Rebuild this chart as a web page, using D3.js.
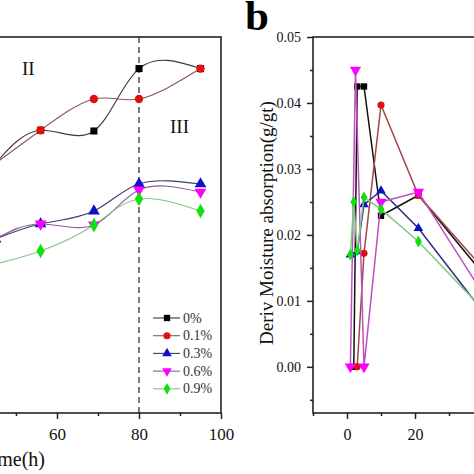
<!DOCTYPE html>
<html><head><meta charset="utf-8">
<script src="https://cdn.jsdelivr.net/npm/d3@7"></script>
<style>body{margin:0;background:#fff}svg{display:block}text{font-family:"Liberation Serif","Times New Roman",serif}</style>
</head><body><svg id="c" width="474" height="474"></svg>
<script>
// ---- data ----
const seriesNames = ["0%", "0.1%", "0.3%", "0.6%", "0.9%"];
// panel a: moisture absorption vs time (spline-connected)
const aTime = [45, 56, 69, 80, 95];
const a0 = [0.166, 0.188, 0.1875, 0.229, 0.229];
const a1 = [0.166, 0.188, 0.2088, 0.2088, 0.229];
const a2 = [0.1157, 0.1257, 0.1343, 0.1523, 0.1523];
const a3 = [0.1157, 0.1257, 0.125, 0.1483, 0.1469];
const a4 = [0.0991, 0.1077, 0.125, 0.1423, 0.1343];
const aXTicks = [60, 80, 100];
// panel b: derivative of moisture absorption
const b0x = [2, 3, 5, 10, 21, 45];
const b0y = [0, 0.0425, 0.0425, 0.0229, 0.026, 0.011];
const b1x = [3, 5, 10, 21, 45];
const b1y = [0, 0.0172, 0.0397, 0.026, 0.012];
const b2x = [1, 3, 5, 10, 21, 45];
const b2y = [0.017, 0.0175, 0.0246, 0.0267, 0.021, 0.005];
const b3x = [1, 2.5, 5, 10, 21, 45];
const b3y = [0, 0.045, 0, 0.025, 0.0265, 0.007];
const b4x = [1, 2, 3, 5, 10, 21, 45];
const b4y = [0.017, 0.025, 0.0176, 0.0257, 0.0239, 0.019, 0.006];
const bYTicks = [0, 0.01, 0.02, 0.03, 0.04, 0.05];
const bXTicks = [0, 20];

// ---- styles ----
const markerFill = ["#000000", "#e01010", "#1010c8", "#ff00ff", "#10e010"];
const lineColA = ["#3a3a3a", "#8a5560", "#3c3c6a", "#8c5c94", "#88c488"];
const lineColB = ["#111111", "#a04848", "#2c2c80", "#c050c0", "#80c880"];
const symbols = [d3.symbolSquare, d3.symbolCircle, d3.symbolTriangle, d3.symbolTriangle, d3.symbolDiamond];
const rotations = [0, 0, 0, 180, 0];

const svg = d3.select("#c");

// ---- panel a ----
const ax = d3.scaleLinear().domain([0, 100]).range([-189, 221]);
const ay = d3.scaleLinear().domain([0, 0.25]).range([413, 37]);
svg.append("clipPath").attr("id", "clipA").append("rect")
  .attr("x", -189).attr("y", 37).attr("width", 410).attr("height", 376);

const aSeries = [a0, a1, a2, a3, a4];
const gA = svg.append("g").attr("clip-path", "url(#clipA)");
// dashed divider at 80 h
gA.append("line").attr("x1", ax(80)).attr("x2", ax(80)).attr("y1", ay(0.25)).attr("y2", ay(0))
  .attr("stroke", "#222").attr("stroke-width", 1.2).attr("stroke-dasharray", "6,4");
const lineA = d3.line().x((d, i) => ax(aTime[i])).y(d => ay(d)).curve(d3.curveNatural);
aSeries.forEach((s, k) => {
  gA.append("path").attr("d", lineA(s)).attr("fill", "none")
    .attr("stroke", lineColA[k]).attr("stroke-width", 1.1);
});
aSeries.forEach((s, k) => {
  const sym = d3.symbol().type(symbols[k]).size(k === 1 ? 55 : (k === 0 ? 50 : 60));
  gA.selectAll(null).data(s).enter().append("path")
    .attr("d", sym)
    .attr("transform", (d, i) => `translate(${ax(aTime[i])},${ay(d)}) rotate(${rotations[k]})`)
    .attr("fill", markerFill[k]);
});
// frame
svg.append("rect").attr("x", -189).attr("y", 37).attr("width", 410).attr("height", 376)
  .attr("fill", "none").attr("stroke", "#222").attr("stroke-width", 1.6);
// x axis
const axA = svg.append("g").attr("transform", "translate(0,413)")
  .call(d3.axisBottom(ax).tickValues(aXTicks).tickSize(6).tickFormat(d3.format("d")));
const axAMinor = svg.append("g").attr("transform", "translate(0,413)")
  .call(d3.axisBottom(ax).tickValues([50, 70, 90]).tickSize(3).tickFormat(""));
[axA, axAMinor].forEach(g => {
  g.select(".domain").remove();
  g.selectAll("line").attr("stroke", "#222").attr("stroke-width", 1.5);
});
axA.selectAll("text").attr("font-size", 17).attr("fill", "#111").attr("dy", "1.05em")
  .style("font-family", "Liberation Serif");
svg.append("text").attr("x", 45).attr("y", 466).attr("text-anchor", "end")
  .attr("font-size", 20).attr("fill", "#111").text("Time(h)");
svg.append("text").attr("x", 22).attr("y", 75).attr("font-size", 19).attr("fill", "#111").text("II");
svg.append("text").attr("x", 170).attr("y", 133).attr("font-size", 19).attr("fill", "#111").text("III");
// legend
const leg = svg.append("g");
seriesNames.forEach((n, k) => {
  const y = 318 + k * 17.7;
  leg.append("line").attr("x1", 153).attr("x2", 180).attr("y1", y).attr("y2", y)
    .attr("stroke", lineColA[k]).attr("stroke-width", 1.1);
  leg.append("path").attr("d", d3.symbol().type(symbols[k]).size(40))
    .attr("transform", `translate(167,${y}) rotate(${rotations[k]})`).attr("fill", markerFill[k]);
  leg.append("text").attr("x", 183).attr("y", y + 4.5).attr("font-size", 14)
    .attr("fill", "#333").text(n);
});

// ---- panel b ----
const bx = d3.scaleLinear().domain([-10, 100]).range([313, 687]);
const by = d3.scaleLinear().domain([-0.007, 0.05]).range([413, 37]);
svg.append("clipPath").attr("id", "clipB").append("rect")
  .attr("x", 313).attr("y", 37).attr("width", 374).attr("height", 376);
const bXs = [b0x, b1x, b2x, b3x, b4x];
const bYs = [b0y, b1y, b2y, b3y, b4y];
const gB = svg.append("g").attr("clip-path", "url(#clipB)");
bXs.forEach((xs, k) => {
  const line = d3.line().x((d, i) => bx(xs[i])).y(d => by(d));
  gB.append("path").attr("d", line(bYs[k])).attr("fill", "none")
    .attr("stroke", lineColB[k]).attr("stroke-width", 1.5);
  const sym = d3.symbol().type(symbols[k]).size(k === 3 ? 55 : 40);
  gB.selectAll(null).data(bYs[k]).enter().append("path")
    .attr("d", sym)
    .attr("transform", (d, i) => `translate(${bx(xs[i])},${by(d)}) rotate(${rotations[k]})`)
    .attr("fill", markerFill[k]);
});
svg.append("rect").attr("x", 313).attr("y", 37).attr("width", 374).attr("height", 376)
  .attr("fill", "none").attr("stroke", "#222").attr("stroke-width", 1.6);
const byAxis = svg.append("g").attr("transform", "translate(313,0)")
  .call(d3.axisLeft(by).tickValues(bYTicks).tickSize(6).tickPadding(6).tickFormat(d3.format(".2f")));
const byMinor = svg.append("g").attr("transform", "translate(313,0)")
  .call(d3.axisLeft(by).tickValues([-0.005, 0.005, 0.015, 0.025, 0.035, 0.045]).tickSize(3).tickFormat(""));
const bxAxis = svg.append("g").attr("transform", "translate(0,413)")
  .call(d3.axisBottom(bx).tickValues(bXTicks).tickSize(6).tickFormat(d3.format("d")));
const bxMinor = svg.append("g").attr("transform", "translate(0,413)")
  .call(d3.axisBottom(bx).tickValues([-10, 10, 30]).tickSize(3).tickFormat(""));
[byAxis, byMinor, bxAxis, bxMinor].forEach(g => {
  g.select(".domain").remove();
  g.selectAll("line").attr("stroke", "#222").attr("stroke-width", 1.5);
});
byAxis.selectAll("text").attr("font-size", 14).attr("fill", "#111").style("font-family", "Liberation Serif");
bxAxis.selectAll("text").attr("font-size", 16).attr("fill", "#111").attr("dy", "1.1em")
  .style("font-family", "Liberation Serif");
svg.append("text").attr("transform", "translate(273,223) rotate(-90)").attr("text-anchor", "middle")
  .attr("font-size", 19).attr("fill", "#111").text("Deriv Moisture absorption(g/gt)");
svg.append("text").attr("x", 245).attr("y", 30).attr("font-size", 43).attr("font-weight", "bold")
  .attr("fill", "#000").text("b");
</script></body></html>
